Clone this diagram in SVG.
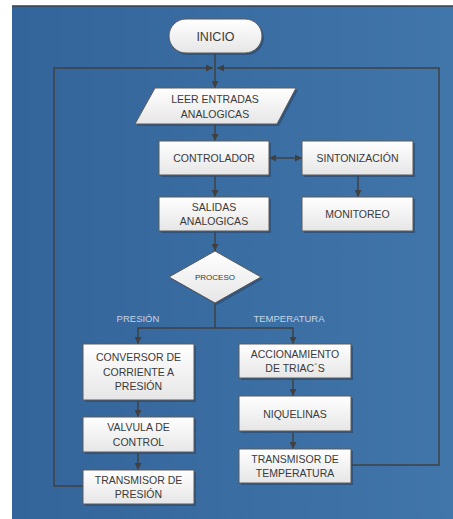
<svg xmlns="http://www.w3.org/2000/svg" width="453" height="519" viewBox="0 0 453 519">
<defs>
<linearGradient id="bg" x1="0" y1="0" x2="1" y2="0">
<stop offset="0" stop-color="#33649a"/>
<stop offset="1" stop-color="#4176aa"/>
</linearGradient>
<linearGradient id="box" x1="0" y1="0" x2="0" y2="1">
<stop offset="0" stop-color="#ffffff"/>
<stop offset="1" stop-color="#e6e6e6"/>
</linearGradient>
<marker id="ah" viewBox="0 0 10 10" refX="10" refY="5" markerWidth="7" markerHeight="7" markerUnits="userSpaceOnUse" orient="auto-start-reverse">
<path d="M0,0 L10,5 L0,10 z" fill="#404040"/>
</marker>
</defs>
<style>
.n{fill:url(#box);stroke:#5a5a5a;stroke-width:1}
.sh{fill:#2a4a70;opacity:0.7}
.t{font-family:"Liberation Sans",Arial,sans-serif;font-size:10.5px;fill:#3a3a3a;text-anchor:middle}
.c{fill:none;stroke:#404040;stroke-width:1.5}
.lbl{font-family:"Liberation Sans",Arial,sans-serif;font-size:9.5px;fill:#c5d5e8;text-anchor:middle}
</style>
<rect x="12" y="6" width="441" height="513" fill="url(#bg)"/>
<line x1="12" y1="6" x2="453" y2="6" stroke="#3a3f48" stroke-width="1.5"/>

<g id="connectors">
<path class="c" d="M215,53 V88" marker-end="url(#ah)"/>
<path class="c" d="M83,486 H54 V68 H213" marker-end="url(#ah)"/>
<path class="c" d="M351,465 H439 V68 H217" marker-end="url(#ah)"/>
<path class="c" d="M215,124 V141" marker-end="url(#ah)"/>
<path class="c" d="M269,158 H302" marker-start="url(#ah)" marker-end="url(#ah)"/>
<path class="c" d="M215,175 V197" marker-end="url(#ah)"/>
<path class="c" d="M358,175 V197" marker-end="url(#ah)"/>
<path class="c" d="M215,231 V251" marker-end="url(#ah)"/>
<path class="c" d="M215,302 V328 M138,328 H293"/>
<path class="c" d="M138,327.3 V344" marker-end="url(#ah)"/>
<path class="c" d="M293,327.3 V344" marker-end="url(#ah)"/>
<path class="c" d="M138,400 V417" marker-end="url(#ah)"/>
<path class="c" d="M138,452 V470" marker-end="url(#ah)"/>
<path class="c" d="M293,378 V396" marker-end="url(#ah)"/>
<path class="c" d="M293,431 V449" marker-end="url(#ah)"/>
<text class="lbl" x="138" y="322">PRESIÓN</text>
<text class="lbl" x="289" y="322">TEMPERATURA</text>
</g>

<g id="inicio">
<rect class="sh" x="171" y="21" width="93" height="34" rx="17"/>
<rect class="n" x="169" y="19" width="93" height="34" rx="17"/>
<text class="t" x="215.5" y="40.5" style="font-size:12.5px">INICIO</text>
</g>

<g id="leer">
<polygon class="sh" points="157,90 298,90 279,126 137,126"/>
<polygon class="n" points="155,88 296,88 277,124 135,124"/>
<text class="t" x="215" y="103">LEER ENTRADAS</text>
<text class="t" x="215" y="118">ANALOGICAS</text>
</g>

<g id="controlador">
<rect class="sh" x="161" y="143" width="110" height="34"/>
<rect class="n" x="159" y="141" width="110" height="34"/>
<text class="t" x="214" y="162">CONTROLADOR</text>
</g>

<g id="sintonizacion">
<rect class="sh" x="304" y="143" width="111" height="34"/>
<rect class="n" x="302" y="141" width="111" height="34"/>
<text class="t" x="357.5" y="162">SINTONIZACIÓN</text>
</g>

<g id="salidas">
<rect class="sh" x="161" y="199" width="110" height="34"/>
<rect class="n" x="159" y="197" width="110" height="34"/>
<text class="t" x="214" y="210.5">SALIDAS</text>
<text class="t" x="214" y="225">ANALOGICAS</text>
</g>

<g id="monitoreo">
<rect class="sh" x="304" y="199" width="111" height="34"/>
<rect class="n" x="302" y="197" width="111" height="34"/>
<text class="t" x="357.5" y="218">MONITOREO</text>
</g>

<g id="proceso">
<polygon class="sh" points="217,253 263,279 217,305 171,279"/>
<polygon class="n" points="215,251 261,277 215,303 169,277"/>
<text class="t" x="215" y="280" style="font-size:8px">PROCESO</text>
</g>

<g id="conversor">
<rect class="sh" x="85" y="346" width="111" height="56"/>
<rect class="n" x="83" y="344" width="111" height="56"/>
<text class="t" x="138.5" y="361">CONVERSOR DE</text>
<text class="t" x="138.5" y="375.5">CORRIENTE A</text>
<text class="t" x="138.5" y="390">PRESIÓN</text>
</g>

<g id="accionamiento">
<rect class="sh" x="241" y="346" width="112" height="34"/>
<rect class="n" x="239" y="344" width="112" height="34"/>
<text class="t" x="295" y="357.5">ACCIONAMIENTO</text>
<text class="t" x="295" y="372">DE TRIAC´S</text>
</g>

<g id="valvula">
<rect class="sh" x="85" y="419" width="111" height="35"/>
<rect class="n" x="83" y="417" width="111" height="35"/>
<text class="t" x="138.5" y="431">VALVULA DE</text>
<text class="t" x="138.5" y="445.5">CONTROL</text>
</g>

<g id="niquelinas">
<rect class="sh" x="241" y="398" width="112" height="35"/>
<rect class="n" x="239" y="396" width="112" height="35"/>
<text class="t" x="295" y="417.5">NIQUELINAS</text>
</g>

<g id="transmisor_presion">
<rect class="sh" x="85" y="472" width="111" height="34"/>
<rect class="n" x="83" y="470" width="111" height="34"/>
<text class="t" x="138.5" y="483.5">TRANSMISOR DE</text>
<text class="t" x="138.5" y="498">PRESIÓN</text>
</g>

<g id="transmisor_temperatura">
<rect class="sh" x="241" y="451" width="112" height="34"/>
<rect class="n" x="239" y="449" width="112" height="34"/>
<text class="t" x="295" y="462.5">TRANSMISOR DE</text>
<text class="t" x="295" y="477">TEMPERATURA</text>
</g>
</svg>
